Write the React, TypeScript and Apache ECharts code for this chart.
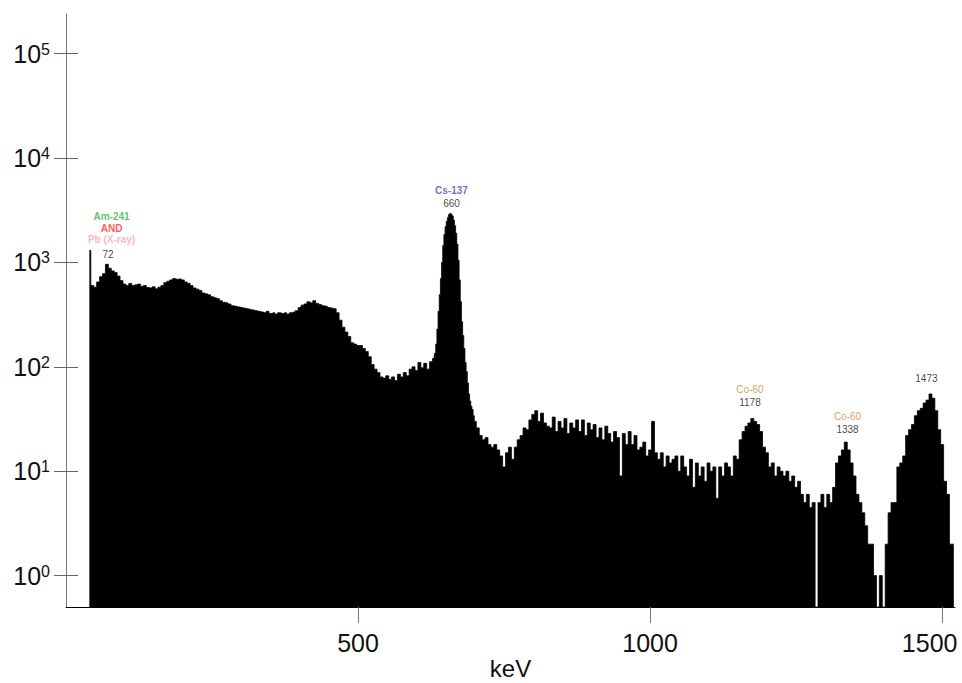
import React, { useEffect, useRef } from "react";
import * as echarts from "echarts";

// Counts per channel, region by region; each region has its own channel width (keV)
const lowEnergyStart = 40;
const lowEnergyStep = 5;
const lowEnergyCounts = [
  1300, 600, 580, 650, 730, 780, 960, 880, 830, 800, 740, 670, 620, 600, 630, 600,
  610, 620, 590, 600, 575, 570, 585, 560, 580, 600, 640, 660, 680, 700, 690, 695,
  680, 650, 630, 600, 570, 555, 540, 510, 500, 490, 470, 460, 450, 430, 415, 410,
  400, 385, 380, 375,
];

const comptonStart = 300;
const comptonStep = 5;
const comptonCounts = [
  370, 365, 360, 355, 350, 345, 340, 335, 330, 340, 325, 330, 320, 330, 325, 330,
  320, 330, 335, 345, 370, 390, 400, 420, 410, 430, 405, 395, 385, 380, 370, 365,
  360, 330, 280, 240, 215, 195, 170, 165, 160, 160, 150, 140, 125, 105, 95, 88,
  80, 78, 82, 76, 80, 74, 85, 80, 88, 82, 95, 100, 92, 110, 98, 108, 95, 112,
];

const csPeakStart = 630;
const csPeakStep = 2;
const csPeakCounts = [
  120, 135, 165, 230, 340, 490, 700, 1000, 1450, 1850, 2200, 2480, 2700, 2880, 2950, 2900,
  2780, 2550, 2250, 1900, 1500, 1050, 680, 420, 270, 200, 150, 110, 90, 70, 55, 47,
  42, 39, 34, 30,
];

const csTailStart = 705;
const csTailStep = 5;
const csTailCounts = [26, 22, 20, 21, 18, 17, 18, 16, 14];

const continuumStart = 750;
const continuumStep = 5;
const continuumCounts = [
  11, 15, 17, 13, 17, 20, 22, 26, 25, 31, 35, 38, 30, 36, 29, 27,
  26, 33, 24, 30, 26, 32, 23, 29, 26, 31, 24, 31, 22, 29, 25, 28,
  21, 26, 20, 27, 23, 19, 24, 21, 9, 23, 18, 24, 18, 22, 16, 17,
  19, 14, 16, 30, 15, 13, 15, 11, 14, 12, 13, 14, 10, 14, 11, 9,
  13, 7, 12, 9, 11, 8, 12, 10, 11, 5.5, 11, 9, 12, 11, 9, 14,
];

const highEnergyStart = 1150;
const highEnergyStep = 5;
const highEnergyCounts = [
  13, 20, 24, 27, 29, 32, 30, 28, 24, 17, 15, 11, 12, 9, 11, 10,
  9, 10, 8, 9, 7, 8, 6, 5, 6, 4.5, 5, 0, 5, 6, 4.5, 6,
  5, 7, 12, 14, 16, 19, 16, 12, 9, 6, 5, 4, 3, 2, 2, 1,
  0, 1, 0, 2, 4, 5, 5, 11, 12, 14, 22, 25, 28, 34, 38, 40,
  45, 48, 55, 50, 38, 25, 18, 8, 6, 2, 2,
];

// Peak annotations
const peakEnergyTexts = ["72", "660", "1178", "1338", "1473"];
const peakLabelEnergies = [72, 660, 1171, 1338, 1473];
const peakLabelCounts = [915, 3070, 37.6, 21, 63.7];
const peakNuclides = [["Am-241", "AND", "Pb (X-ray)"], ["Cs-137"], ["Co-60"], ["Co-60"], []];
const peakNuclideStyles = [["am", "and", "pb"], ["cs"], ["co"], ["co"], []];

// Axes
const xTickValues = [500, 1000, 1500];
const yTickValues = [1, 10, 100, 1000, 10000, 100000];
const X_MIN = 0;
const X_MAX = 1522;
const Y_MIN = 0.5;
const Y_MAX = 240000;

const FONT = "'Liberation Sans', Arial, Helvetica, sans-serif";

function buildSpectrum(): [number, number][] {
  const regions: [number, number, number[]][] = [
    [lowEnergyStart, lowEnergyStep, lowEnergyCounts],
    [comptonStart, comptonStep, comptonCounts],
    [csPeakStart, csPeakStep, csPeakCounts],
    [csTailStart, csTailStep, csTailCounts],
    [continuumStart, continuumStep, continuumCounts],
    [highEnergyStart, highEnergyStep, highEnergyCounts],
  ];
  const pts: [number, number][] = [];
  regions.forEach(([start, step, counts]) => {
    counts.forEach((c, i) => pts.push([start + i * step, c > 0 ? c : Y_MIN]));
  });
  return pts;
}

export default function App() {
  const ref = useRef<HTMLDivElement>(null);

  useEffect(() => {
    if (!ref.current) return;
    const chart = echarts.init(ref.current, null, { renderer: "svg" });

    const peakData = peakEnergyTexts.map((txt, i) => {
      const lines = peakNuclides[i].map((n, j) => `{${peakNuclideStyles[i][j]}|${n}}`);
      const numStyle = i === 0 ? "numGap" : "num";
      lines.push(`{${numStyle}|${txt}}`);
      return {
        value: [peakLabelEnergies[i], peakLabelCounts[i]],
        label: { formatter: lines.join("\n") },
      };
    });

    const nameBase = { fontFamily: FONT, fontSize: 10, fontWeight: "bold" as const, lineHeight: 13 };
    const amBase = { ...nameBase, lineHeight: 11.5, padding: [0, 0, 0, 7] };
    const xLabelBase = { fontFamily: FONT, fontSize: 25, color: "#111" };
    const lastXTick = xTickValues[xTickValues.length - 1];

    chart.setOption({
      animation: false,
      backgroundColor: "#ffffff",
      grid: {
        left: 66,
        right: 7,
        top: 14,
        bottom: 76,
        containLabel: false,
        outerBoundsMode: "none",
      },
      xAxis: {
        type: "value",
        min: X_MIN,
        max: X_MAX,
        name: "keV",
        nameLocation: "middle",
        nameGap: 49,
        nameMoveOverlap: false,
        nameTextStyle: { fontFamily: FONT, fontSize: 24, lineHeight: 24, color: "#111" },
        axisLine: { show: true, lineStyle: { color: "#000", width: 1 } },
        axisTick: {
          show: true,
          length: 16,
          customValues: xTickValues,
          lineStyle: { color: "#777", width: 1 },
        },
        axisLabel: {
          customValues: xTickValues,
          formatter: (v: number) => (v === lastXTick ? `{edge|${v}}` : `{n|${v}}`),
          rich: {
            n: xLabelBase,
            edge: { ...xLabelBase, padding: [0, 25, 0, 0] },
          },
          margin: 23,
        },
        splitLine: { show: false },
      },
      yAxis: [
        {
          type: "log",
          logBase: 10,
          min: Y_MIN,
          max: Y_MAX,
          position: "left",
          axisLine: { show: true, lineStyle: { color: "#777", width: 1 } },
          axisTick: {
            show: true,
            inside: false,
            length: 12,
            customValues: yTickValues,
            lineStyle: { color: "#666", width: 1 },
          },
          axisLabel: {
            customValues: yTickValues,
            margin: 16,
            formatter: (v: number) => `{b|10}{s|${Math.round(Math.log10(v))}}`,
            rich: {
              b: { fontFamily: FONT, fontSize: 25, color: "#111" },
              s: { fontFamily: FONT, fontSize: 16, color: "#111", verticalAlign: "top" },
            },
          },
          splitLine: { show: false },
        },
        {
          type: "log",
          logBase: 10,
          min: Y_MIN,
          max: Y_MAX,
          position: "left",
          offset: 0,
          axisLine: { show: false },
          axisTick: {
            show: true,
            inside: true,
            length: 12,
            customValues: yTickValues,
            lineStyle: { color: "#666", width: 1 },
          },
          axisLabel: { show: false },
          splitLine: { show: false },
        },
      ],
      series: [
        {
          type: "line",
          name: "spectrum",
          data: buildSpectrum(),
          step: "middle",
          symbol: "none",
          clip: true,
          yAxisIndex: 0,
          lineStyle: { color: "#000", width: 0.8 },
          areaStyle: { color: "#000", opacity: 1, origin: "start" },
          silent: true,
          z: 2,
        },
        {
          type: "scatter",
          name: "peaks",
          yAxisIndex: 0,
          data: peakData,
          symbol: "circle",
          symbolSize: 0.1,
          itemStyle: { color: "rgba(0,0,0,0)" },
          silent: true,
          z: 3,
          label: {
            show: true,
            position: "top",
            distance: 2,
            align: "center",
            rich: {
              am: { ...amBase, color: "#2fb64f" },
              and: { ...amBase, color: "#ff2f2f" },
              pb: { ...amBase, color: "#ffa3ad" },
              cs: { ...nameBase, color: "#4a4ab6" },
              co: { ...nameBase, fontWeight: "normal", color: "#c98a3c" },
              num: { fontFamily: FONT, fontSize: 10, color: "#111", lineHeight: 13 },
              numGap: { fontFamily: FONT, fontSize: 10, color: "#111", lineHeight: 19 },
            },
          },
        },
      ],
    });

    return () => chart.dispose();
  }, []);

  return (
    <div
      ref={ref}
      style={{ position: "absolute", left: 0, top: 0, width: 962, height: 683, background: "#fff" }}
    />
  );
}
